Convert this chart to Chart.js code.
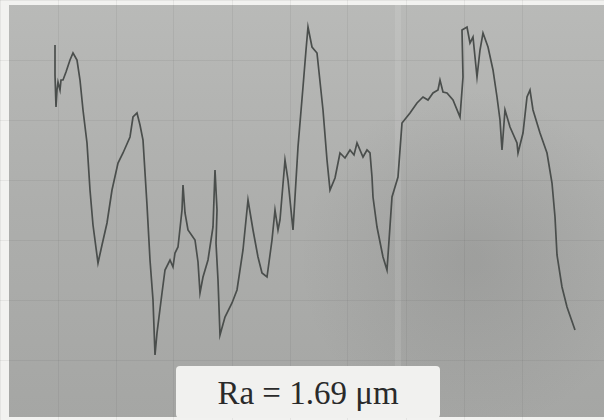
<!DOCTYPE html>
<html>
<head>
<meta charset="utf-8">
<script src="https://cdn.jsdelivr.net/npm/chart.js@4/dist/chart.umd.min.js"></script>
<style>
  html, body { margin: 0; padding: 0; background: #fff; }
  #wrap { position: relative; width: 604px; height: 420px; }
  #label {
    position: absolute; left: 176px; top: 366px; width: 264px; height: 52px;
    background: #f1f1ef; border-radius: 4px;
    font-family: "Liberation Serif", "DejaVu Serif", serif; font-size: 33px;
    color: #2a2a2a; text-align: center; line-height: 54px;
  }
</style>
</head>
<body>
<div id="wrap">
  <canvas id="chart" width="604" height="420"></canvas>
  <div id="label">Ra = 1.69 μm</div>
</div>
<script>
// profile trace: position along the trace and height
const position = [55, 55, 56, 57, 58, 60, 61, 63, 66, 70, 73, 77, 80, 83, 87, 90, 93, 98, 102, 107,
  112, 118, 123, 130, 133, 137, 140, 143, 147, 150, 153, 155, 157, 162, 165, 170, 173, 175, 178, 182,
  183, 185, 188, 195, 198, 200, 203, 208, 213, 215, 217, 216, 218, 220, 225, 232, 237, 243, 248, 253,
  258, 262, 267, 272, 275, 278, 280, 285, 288, 293, 295, 298, 303, 306, 308, 312, 317, 323, 327, 330,
  335, 340, 345, 350, 354, 357, 363, 367, 370, 372, 373, 377, 383, 387, 392, 398, 402, 410, 417, 423,
  428, 433, 438, 440, 443, 447, 453, 460, 463, 462, 467, 470, 473, 477, 480, 483, 488, 493, 497, 500,
  502, 505, 510, 517, 518, 523, 527, 530, 533, 540, 547, 552, 555, 557, 562, 567, 575];
const height = [375, 345, 313, 330, 338, 330, 340, 340, 348, 360, 367, 360, 340, 310, 277, 230, 195, 157, 175, 197,
  230, 257, 267, 283, 303, 307, 295, 280, 215, 160, 120, 65, 87, 127, 150, 160, 153, 167, 173, 210,
  235, 207, 190, 180, 158, 127, 143, 160, 193, 250, 210, 177, 140, 85, 103, 117, 130, 170, 220, 190,
  163, 147, 143, 180, 210, 190, 200, 260, 240, 190, 223, 273, 333, 370, 393, 373, 367, 310, 260, 230,
  242, 267, 262, 270, 265, 277, 263, 270, 267, 243, 223, 193, 163, 150, 223, 243, 297, 307, 317, 323,
  320, 327, 330, 340, 328, 327, 320, 303, 343, 390, 393, 377, 383, 343, 370, 387, 373, 350, 323, 300,
  270, 310, 293, 277, 267, 287, 323, 330, 310, 287, 267, 237, 203, 165, 133, 113, 90];

const paper = {
  id: 'paper',
  beforeDraw(chart) {
    const { ctx, width, height } = chart;
    ctx.save();
    const g = ctx.createLinearGradient(0, 0, 0, height);
    g.addColorStop(0, '#b9bab8');
    g.addColorStop(0.5, '#adaeac');
    g.addColorStop(1, '#a5a6a4');
    ctx.fillStyle = g;
    ctx.fillRect(0, 0, width, height);
    // darker patch on the right, light scan stripe
    const r = ctx.createRadialGradient(470, 260, 10, 470, 260, 170);
    r.addColorStop(0, 'rgba(90,90,90,0.16)');
    r.addColorStop(1, 'rgba(90,90,90,0)');
    ctx.fillStyle = r;
    ctx.fillRect(0, 0, width, height);
    ctx.fillStyle = 'rgba(255,255,255,0.1)';
    ctx.fillRect(395, 0, 6, height);
    // scan border
    ctx.fillStyle = '#f2f2f0';
    ctx.fillRect(0, 0, width, 5);
    ctx.fillRect(0, 0, 9, height);
    ctx.fillRect(0, height - 3, width, 3);
    ctx.restore();
  }
};

new Chart(document.getElementById('chart'), {
  type: 'line',
  data: {
    datasets: [{
      data: position.map((x, i) => ({ x: x, y: height[i] })),
      borderColor: '#4a4e4c',
      borderWidth: 1.7,
      pointRadius: 0,
      tension: 0,
      fill: false
    }]
  },
  options: {
    responsive: false,
    animation: false,
    layout: { padding: 0 },
    plugins: { legend: { display: false }, tooltip: { enabled: false } },
    scales: {
      x: {
        type: 'linear', min: 0, max: 604,
        ticks: { display: false, stepSize: 58 },
        grid: { color: 'rgba(70,70,70,0.08)', drawTicks: false },
        border: { display: false }
      },
      y: {
        min: 0, max: 420,
        ticks: { display: false, stepSize: 60 },
        grid: { color: 'rgba(70,70,70,0.08)', drawTicks: false },
        border: { display: false }
      }
    }
  },
  plugins: [paper]
});
</script>
</body>
</html>
